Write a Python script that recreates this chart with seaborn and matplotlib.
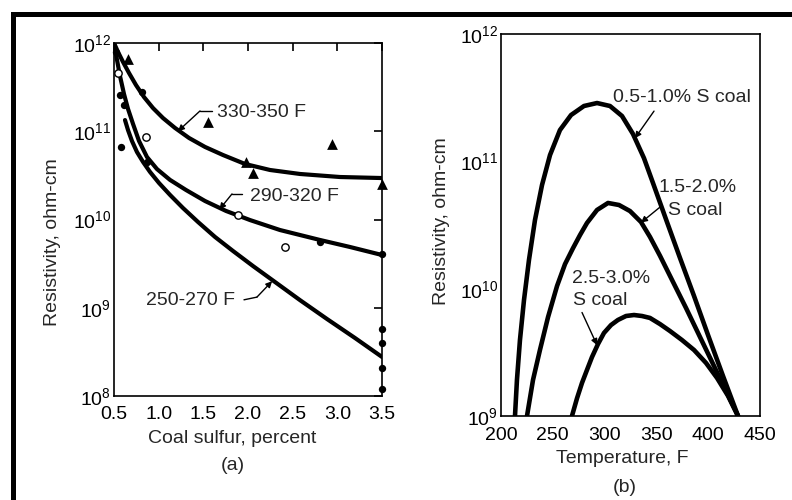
import numpy as np
import pandas as pd
import matplotlib
matplotlib.use("Agg")
import matplotlib.pyplot as plt
from matplotlib.patches import Rectangle
from matplotlib.ticker import NullLocator, LogLocator
from matplotlib.transforms import ScaledTranslation
import seaborn as sns

# ---- panel (a): resistivity vs coal sulfur ----
sulfur_330 = [0.5, 0.545, 0.601, 0.668, 0.746, 0.836, 0.937, 1.049, 1.183, 1.34, 1.519,
              1.72, 1.966, 2.246, 2.582, 3.03, 3.5]
res_330 = [1.0e12, 7.91e11, 6.10e11, 4.57e11, 3.34e11, 2.44e11, 1.83e11, 1.41e11, 1.09e11,
           8.39e10, 6.64e10, 5.38e10, 4.26e10, 3.64e10, 3.28e10, 3.03e10, 2.95e10]

sulfur_290 = [0.5, 0.534, 0.567, 0.612, 0.657, 0.713, 0.78, 0.869, 0.981, 1.127, 1.306,
              1.519, 1.754, 2.022, 2.358, 2.806, 3.142, 3.5]
res_290 = [1.0e12, 6.41e11, 4.23e11, 2.64e11, 1.79e11, 1.21e11, 7.76e10, 5.11e10, 3.73e10,
           2.81e10, 2.16e10, 1.62e10, 1.25e10, 9.86e9, 7.60e9, 5.86e9, 4.88e9, 3.96e9]

sulfur_250 = [0.623, 0.657, 0.701, 0.757, 0.825, 0.903, 1.004, 1.127, 1.272, 1.44, 1.631,
              1.832, 2.056, 2.302, 2.582, 2.884, 3.198, 3.5]
res_250 = [1.34e11, 1.03e11, 7.76e10, 5.82e10, 4.49e10, 3.46e10, 2.59e10, 1.90e10, 1.35e10,
           9.38e9, 6.34e9, 4.40e9, 2.97e9, 1.96e9, 1.22e9, 7.46e8, 4.54e8, 2.77e8]

tri_x = [0.66, 1.55, 1.98, 2.06, 2.94, 3.5]
tri_y = [6.6e11, 1.26e11, 4.5e10, 3.4e10, 7.2e10, 2.5e10]

open_x = [0.54, 0.86, 1.89, 2.41]
open_y = [4.6e11, 8.5e10, 1.12e10, 4.9e9]

dot_x = [0.52, 0.57, 0.61, 0.58, 0.81, 0.87, 2.81, 3.5, 3.5, 3.5, 3.5, 3.5]
dot_y = [8.0e11, 2.6e11, 2.0e11, 6.6e10, 2.8e11, 4.5e10, 5.6e9, 4.1e9, 5.8e8, 4.0e8, 2.1e8, 1.2e8]

# ---- panel (b): resistivity vs temperature ----
temp_a = [213.5, 215.4, 218.3, 222.2, 227.0, 232.8, 239.6, 247.3, 256.9, 267.6, 280.1, 292.7,
          305.2, 316.8, 327.4, 338.0, 346.7, 360.2, 372.8, 386.3, 399.8, 414.3, 428.8]
res_a = [1.0e9, 1.92e9, 3.95e9, 8.15e9, 1.68e10, 3.46e10, 6.52e10, 1.12e11, 1.76e11, 2.31e11,
         2.72e11, 2.87e11, 2.72e11, 2.27e11, 1.64e11, 1.06e11, 6.76e10, 3.34e10, 1.74e10,
         8.77e9, 4.33e9, 2.06e9, 1.0e9]

temp_b = [225.1, 230.9, 237.6, 245.4, 254.1, 261.8, 269.5, 276.3, 283.0, 292.7, 303.3, 313.9,
          324.5, 335.1, 343.8, 353.5, 365.1, 378.6, 392.1, 405.6, 418.1, 428.8]
res_b = [1.0e9, 1.92e9, 3.30e9, 5.98e9, 1.05e10, 1.56e10, 2.08e10, 2.64e10, 3.28e10, 4.15e10,
         4.71e10, 4.54e10, 4.07e10, 3.34e10, 2.55e10, 1.81e10, 1.17e10, 7.05e9, 4.17e9,
         2.47e9, 1.52e9, 1.0e9]

temp_c = [268.5, 273.4, 278.2, 283.0, 287.8, 293.6, 299.4, 306.2, 312.9, 320.7, 328.4, 336.1,
          343.8, 353.5, 363.1, 374.7, 386.3, 397.9, 408.5, 419.1, 428.8]
res_c = [1.0e9, 1.38e9, 1.82e9, 2.30e9, 2.90e9, 3.67e9, 4.49e9, 5.18e9, 5.68e9, 6.10e9, 6.21e9,
         6.10e9, 5.89e9, 5.27e9, 4.65e9, 3.95e9, 3.30e9, 2.61e9, 1.99e9, 1.44e9, 1.0e9]

FS = 14

sns.set_style("white")
plt.rcParams['font.family'] = ['Liberation Sans', 'DejaVu Sans']
plt.rcParams['font.size'] = FS
plt.rcParams['axes.linewidth'] = 1.2

fig = plt.figure(figsize=(7.92, 5), dpi=100)
ax1 = fig.add_axes([114/792, 1-396/500, 268/792, 353/500])
ax2 = fig.add_axes([501/792, 1-416/500, 259/792, 382/500])

for ax in (ax1, ax2):
    ax.set_yscale("log")

# curves, panel (a)
for xs, ys in [(sulfur_330, res_330), (sulfur_290, res_290), (sulfur_250, res_250)]:
    df = pd.DataFrame({"s": xs, "r": ys})
    sns.lineplot(data=df, x="s", y="r", ax=ax1, color="black", lw=3.0,
                 sort=False, estimator=None, solid_capstyle="round")

sns.scatterplot(x=tri_x, y=tri_y, ax=ax1, marker="^", s=60, color="black",
                edgecolor="black", linewidth=0, clip_on=False, zorder=5)
sns.scatterplot(x=open_x, y=open_y, ax=ax1, marker="o", s=28, facecolor="white",
                edgecolor="black", linewidth=1.0, clip_on=False, zorder=5)
sns.scatterplot(x=dot_x, y=dot_y, ax=ax1, marker="o", s=28, color="black",
                edgecolor="black", linewidth=0, clip_on=False, zorder=5)

ax1.set_xlim(0.5, 3.5)
ax1.set_ylim(1e8, 1e12)
ax1.set_xticks([0.5, 1.0, 1.5, 2.0, 2.5, 3.0, 3.5])
ax1.set_xticklabels(["0.5", "1.0", "1.5", "2.0", "2.5", "3.0", "3.5"])
ax1.yaxis.set_major_locator(LogLocator(base=10, numticks=10))
ax1.yaxis.set_minor_locator(NullLocator())
ax1.tick_params(direction="in", length=6, width=1.2, top=True, right=True,
                labelsize=FS, colors="black")
ax1.tick_params(axis="x", pad=7)
ax1.tick_params(axis="y", pad=2)
ax1.set_xlabel("Coal sulfur, percent", fontsize=FS)
ax1.set_ylabel("Resistivity, ohm-cm", fontsize=FS)
ax1.xaxis.set_label_coords(0.44, -0.119)
ax1.xaxis.label.set_va("center")
ax1.yaxis.set_label_coords(-0.228, 0.436)
ax1.yaxis.label.set_va("center")

# the 10^8 label sits a little above its tick, clear of "0.5"
fig.canvas.draw()
lowest = ax1.get_yticklabels()[0]
lowest.set_transform(lowest.get_transform() + ScaledTranslation(0, 6/100, fig.dpi_scale_trans))

# labels with leader arrows, panel (a)
arrow = dict(arrowstyle="-|>", color="black", lw=1.0, mutation_scale=9,
             shrinkA=0, shrinkB=0)
ax1.text(1.65, 1.65e11, "330-350 F", ha="left", va="center")
ax1.plot([1.597, 1.463], [1.7e11, 1.7e11], color="black", lw=1.0)
ax1.annotate("", xy=(1.216, 1.0e11), xytext=(1.463, 1.7e11), arrowprops=arrow)

ax1.text(2.02, 1.8e10, "290-320 F", ha="left", va="center")
ax1.plot([1.933, 1.821], [1.95e10, 1.95e10], color="black", lw=1.0)
ax1.annotate("", xy=(1.68, 1.3e10), xytext=(1.821, 1.95e10), arrowprops=arrow)

ax1.text(1.855, 1.22e9, "250-270 F", ha="right", va="center")
ax1.plot([1.955, 2.10], [1.23e9, 1.32e9], color="black", lw=1.0)
ax1.annotate("", xy=(2.27, 2.0e9), xytext=(2.10, 1.32e9), arrowprops=arrow)

# curves, panel (b)
for xs, ys in [(temp_a, res_a), (temp_b, res_b), (temp_c, res_c)]:
    df = pd.DataFrame({"t": xs, "r": ys})
    sns.lineplot(data=df, x="t", y="r", ax=ax2, color="black", lw=3.3,
                 sort=False, estimator=None, solid_joinstyle="round")

ax2.set_xlim(200, 450)
ax2.set_ylim(1e9, 1e12)
ax2.set_xticks([200, 250, 300, 350, 400, 450])
ax2.yaxis.set_major_locator(LogLocator(base=10, numticks=10))
ax2.yaxis.set_minor_locator(NullLocator())
ax2.tick_params(direction="in", length=6, width=1.2, labelsize=FS, colors="black")
ax2.tick_params(axis="x", pad=8)
ax2.tick_params(axis="y", pad=2)
ax2.set_xlabel("Temperature, F", fontsize=FS)
ax2.set_ylabel("Resistivity, ohm-cm", fontsize=FS)
ax2.xaxis.set_label_coords(0.467, -0.11)
ax2.xaxis.label.set_va("center")
ax2.yaxis.set_label_coords(-0.228, 0.51)
ax2.yaxis.label.set_va("center")

ax2.text(308, 3.2e11, "0.5-1.0% S coal", ha="left", va="center")
ax2.annotate("", xy=(329.3, 1.52e11), xytext=(347.7, 2.48e11), arrowprops=arrow)
ax2.text(352.5, 6.2e10, "1.5-2.0%", ha="left", va="center")
ax2.text(361.2, 4.1e10, "S coal", ha="left", va="center")
ax2.annotate("", xy=(335.1, 3.3e10), xytext=(355.4, 4.5e10), arrowprops=arrow)
ax2.text(268.5, 1.21e10, "2.5-3.0%", ha="left", va="center")
ax2.text(269.5, 8.1e9, "S coal", ha="left", va="center")
ax2.annotate("", xy=(292.7, 3.6e9), xytext=(278.2, 6.5e9), arrowprops=arrow)

for ax in (ax1, ax2):
    for sp in ax.spines.values():
        sp.set_color("black")
        sp.set_linewidth(1.2)

fig.text(233/792, 1-465/500, "(a)", ha="center", va="center", fontsize=FS)
fig.text(625/792, 1-487/500, "(b)", ha="center", va="center", fontsize=FS)

# thick frame lines at top and left
fig.add_artist(Rectangle((11/792, 0), 4.5/792, 488/500, transform=fig.transFigure,
                         color="black", lw=0))
fig.add_artist(Rectangle((11/792, 1-16.5/500), 781/792, 4.5/500, transform=fig.transFigure,
                         color="black", lw=0))

fig.savefig("out.png", dpi=100)
